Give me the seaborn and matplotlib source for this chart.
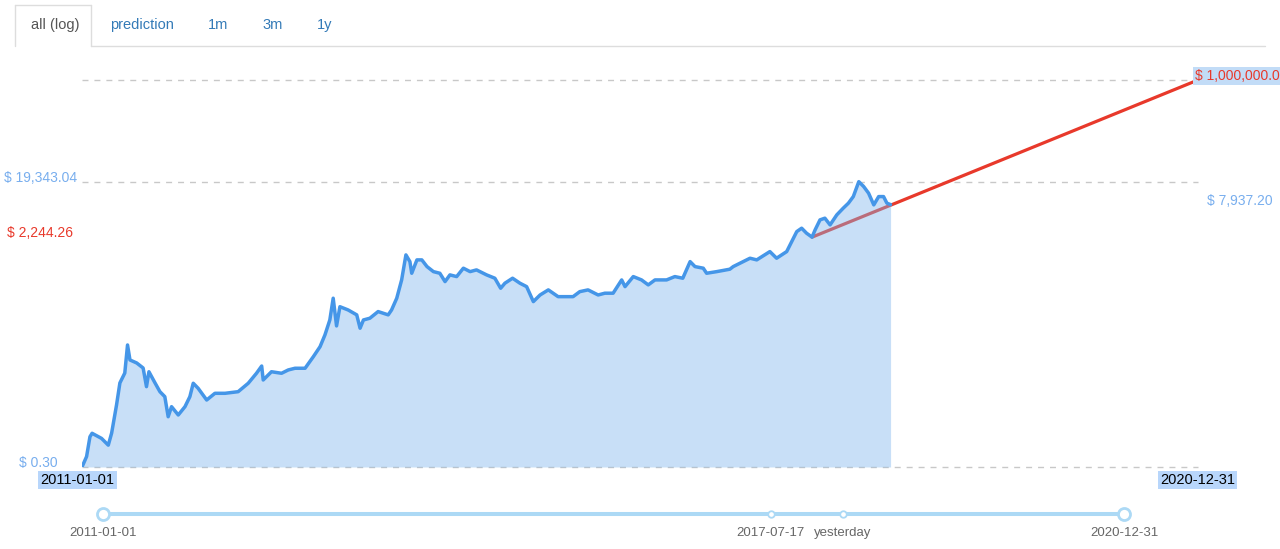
import pandas as pd
import matplotlib
matplotlib.use("Agg")
import matplotlib.pyplot as plt
import seaborn as sns
from matplotlib.lines import Line2D

# price history (log scale)
dates = [
    "2011-01-01", "2011-01-16", "2011-01-27", "2011-02-03", "2011-03-06", "2011-03-28", "2011-04-08", "2011-04-24", "2011-05-05", "2011-05-21",
    "2011-05-30", "2011-06-07", "2011-06-29", "2011-07-20", "2011-07-31", "2011-08-08", "2011-08-28", "2011-09-13", "2011-09-29", "2011-10-10",
    "2011-10-21", "2011-11-12", "2011-12-04", "2011-12-20", "2011-12-31", "2012-01-16", "2012-02-13", "2012-03-11", "2012-04-13", "2012-05-26",
    "2012-06-28", "2012-07-25", "2012-08-11", "2012-08-16", "2012-09-12", "2012-10-15", "2012-11-06", "2012-11-28", "2012-12-31", "2013-01-27",
    "2013-02-18", "2013-03-06", "2013-03-22", "2013-04-02", "2013-04-13", "2013-04-24", "2013-05-21", "2013-06-18", "2013-06-29", "2013-07-10",
    "2013-07-31", "2013-08-27", "2013-09-29", "2013-10-10", "2013-10-27", "2013-11-12", "2013-11-26", "2013-12-09", "2013-12-15", "2014-01-01",
    "2014-01-17", "2014-02-03", "2014-02-24", "2014-03-17", "2014-04-03", "2014-04-19", "2014-05-11", "2014-06-02", "2014-06-24", "2014-07-15",
    "2014-08-17", "2014-09-13", "2014-10-02", "2014-10-16", "2014-11-10", "2014-12-04", "2014-12-26", "2015-01-17", "2015-02-08", "2015-03-07",
    "2015-04-08", "2015-05-27", "2015-06-18", "2015-07-15", "2015-08-17", "2015-09-08", "2015-10-05", "2015-11-02", "2015-11-13", "2015-12-10",
    "2016-01-06", "2016-01-28", "2016-02-19", "2016-03-28", "2016-04-24", "2016-05-20", "2016-06-13", "2016-06-29", "2016-07-26", "2016-08-06",
    "2016-09-08", "2016-10-21", "2016-11-01", "2016-12-26", "2017-01-17", "2017-03-01", "2017-03-23", "2017-04-25", "2017-05-28", "2017-06-13",
    "2017-06-29", "2017-07-17", "2017-07-27", "2017-08-12", "2017-08-28", "2017-09-14", "2017-10-06", "2017-10-27", "2017-11-13", "2017-11-29",
    "2017-12-17", "2018-01-02", "2018-01-18", "2018-02-04", "2018-02-20", "2018-03-08", "2018-03-19", "2018-03-31",
]
prices = [
    0.30, 0.45, 0.97, 1.11, 0.91, 0.70, 1.12, 3.33, 7.83, 11.5,
    34.2, 19.1, 17.0, 14.0, 6.78, 12.1, 7.83, 5.58, 4.60, 2.11,
    3.12, 2.26, 3.12, 4.60, 7.74, 6.37, 4.04, 5.24, 5.24, 5.58,
    7.74, 11.4, 15.1, 8.79, 12.1, 11.4, 12.97, 13.85, 13.85, 21.7,
    32.0, 50.5, 90.3, 210, 71.6, 151, 133, 110, 65.5, 90.3,
    96.5, 125, 110, 133, 210, 427, 1127, 869, 553, 929,
    929, 716, 589, 553, 400, 519, 486, 673, 589, 630,
    519, 456, 309, 376, 456, 376, 329, 184, 238, 290,
    223, 223, 271, 290, 238, 255, 255, 427, 329, 486,
    427, 352, 427, 427, 486, 456, 869, 716, 673, 553,
    589, 647, 716, 991, 929, 1282, 991, 1282, 2786, 3178,
    2618, 2244.26, 2976, 4387, 4688, 3614, 5331, 6912, 8394, 10840,
    19343.04, 15990, 12375, 7852, 10840, 10840, 8394, 7937.20,
]

# prediction line
pred_dates = ["2017-07-17", "2020-12-31"]
pred_prices = [2244.26, 1000000.0]

# range slider
slider_dates = ["2011-01-01", "2017-07-17", "2018-03-31", "2020-12-31"]
slider_labels = ["2011-01-01", "2017-07-17", "yesterday", "2020-12-31"]
slider_big = [True, False, False, True]

tabs = ["all (log)", "prediction", "1m", "3m", "1y"]
tab_x = [31, 110, 208, 262, 317]

df = pd.DataFrame({"date": pd.to_datetime(dates), "price": prices})
pred = pd.DataFrame({"date": pd.to_datetime(pred_dates), "price": pred_prices})
sl = pd.DataFrame({"date": pd.to_datetime(slider_dates), "y": 0.0, "big": slider_big})

sns.set_style("white")
plt.rcParams["font.family"] = ["Liberation Sans", "DejaVu Sans"]

W, H = 1280, 549
fig = plt.figure(figsize=(12.8, 5.49), dpi=100)
ax = fig.add_axes([82 / W, 82 / H, 1116 / W, 387 / H])

blue_txt = "#78aeee"
red = "#e8392b"

sns.lineplot(data=pred, x="date", y="price", color=red, lw=2.3, ax=ax, zorder=1, clip_on=False)
ax.fill_between(df["date"], df["price"], 0.3, color="#7cb5ec", alpha=0.42, lw=0, zorder=2)
sns.lineplot(data=df, x="date", y="price", color="#4596e8", lw=2.5, ax=ax, zorder=3)
ax.set_yscale("log")
ax.set_xlim(pd.Timestamp("2011-01-01"), pd.Timestamp("2020-12-31"))
ax.set_ylim(0.3, 1e6)
for v in [0.3, 19343.04, 1e6]:
    ax.axhline(v, color="#c8c8c8", lw=1, ls=(0, (4.3, 4.3)), zorder=0, clip_on=False)
ax.axis("off")

# value labels
yt = ax.get_yaxis_transform()
ax.text(-0.0045, 19343.04, "$ 19,343.04", transform=yt, ha="right", va="baseline", color=blue_txt, fontsize=10)
ax.text(-0.0081, 2244.26, "$ 2,244.26", transform=yt, ha="right", va="baseline", color=red, fontsize=10)
ax.text(-0.0215, 0.3, "$ 0.30", transform=yt, ha="right", va="baseline", color=blue_txt, fontsize=10)
ax.text(1.008, 7937.20, "$ 7,937.20", transform=yt, ha="left", va="baseline", color=blue_txt, fontsize=10)
ax.text(0.9975, 1e6, "$ 1,000,000.0", transform=yt, ha="left", va="baseline", color=red, fontsize=10,
        bbox=dict(facecolor="#c2dcf7", edgecolor="none", pad=1.5))

ax.text(-0.004, -0.0336, "2011-01-01", transform=ax.transAxes, ha="center", va="center", color="black",
        fontsize=10.5, bbox=dict(facecolor="#b8d6fb", edgecolor="none", pad=1.5))
ax.text(0.9995, -0.0336, "2020-12-31", transform=ax.transAxes, ha="center", va="center", color="black",
        fontsize=10.5, bbox=dict(facecolor="#b8d6fb", edgecolor="none", pad=1.5))

# tabs
for t, x in zip(tabs, tab_x):
    fig.text(x / W, 1 - 25 / H, t, ha="left", va="center", fontsize=10.5,
             color="#555555" if t == "all (log)" else "#337ab7")
tab_edges = [((15, 15), (46, 5)), ((15, 91), (5, 5)), ((91, 91), (5, 46)), ((91, 1265), (46, 46))]
for xs, ys in tab_edges:
    fig.add_artist(Line2D([x / W for x in xs], [1 - y / H for y in ys], color="#dddddd", lw=1))

# range slider
sax = fig.add_axes([103 / W, 25 / H, 1021 / W, 20 / H])
sns.lineplot(data=sl, x="date", y="y", color="#acd9f5", lw=2.9, ax=sax, zorder=1)
sns.scatterplot(data=sl[sl["big"]], x="date", y="y", s=75, color="white", edgecolor="#acd9f5",
                linewidth=2, ax=sax, zorder=2, clip_on=False)
sns.scatterplot(data=sl[~sl["big"]], x="date", y="y", s=22, color="white", edgecolor="#acd9f5",
                linewidth=1.3, ax=sax, zorder=2, clip_on=False)
sax.set_xlim(sl["date"].iloc[0], sl["date"].iloc[-1])
sax.set_ylim(-1, 1)
for d, lab in zip(sl["date"], slider_labels):
    sax.text(d, -0.45, lab, transform=sax.get_xaxis_transform(), ha="center", va="center",
             color="#666666", fontsize=9.5)
sax.axis("off")

fig.savefig("out.png", dpi=100, facecolor="white")
